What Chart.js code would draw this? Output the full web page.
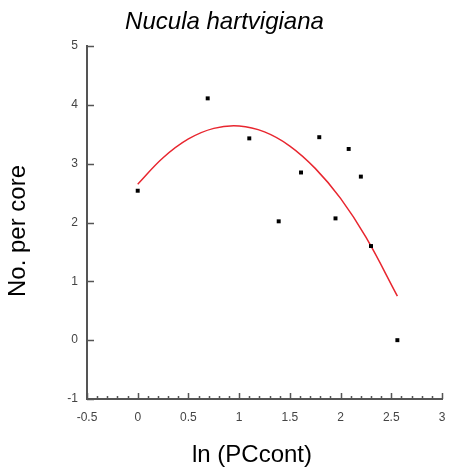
<!DOCTYPE html>
<html lang="en">
<head>
  <meta charset="UTF-8">
  <title>Nucula hartvigiana</title>
  <script src="https://cdn.jsdelivr.net/npm/chart.js"></script>
  <style>
    body { margin: 0; background: #fff; }
    #wrap { width: 449px; height: 474px; }
  </style>
</head>
<body>
  <div id="wrap"><canvas id="chart"></canvas></div>
  <script>
    // observed points: x = ln(PCcont), y = number per core
    const obsX = [0, 0.69, 1.1, 1.39, 1.61, 1.79, 1.95, 2.08, 2.2, 2.3, 2.56]
    const obsY = [2.54, 4.11, 3.43, 2.02, 2.85, 3.45, 2.07, 3.25, 2.78, 1.6, 0]

    // fitted curve
    const fitX = [0, 0.25, 0.5, 0.75, 1.0, 1.25, 1.5, 1.75, 2.0, 2.25, 2.56]
    const fitY = [2.65, 3.1, 3.42, 3.6, 3.64, 3.54, 3.3, 2.92, 2.41, 1.75, 0.75]

    const xTicks = [-0.5, 0, 0.5, 1, 1.5, 2, 2.5, 3]
    const yTicks = [-1, 0, 1, 2, 3, 4, 5]

    const axisColor = '#555'
    const fontFamily = '"Liberation Sans", Arial, sans-serif'
    const isMajor = v => xTicks.some(t => Math.abs(t - v) < 1e-6)

    // inward tick marks and axis titles
    const axisDecor = {
      id: 'axisDecor',
      afterDraw(chart) {
        const { ctx, chartArea, scales: { x, y } } = chart
        ctx.save()
        ctx.strokeStyle = axisColor
        ctx.lineWidth = 1.5
        ctx.beginPath()
        y.ticks.forEach(t => {
          const py = Math.round(y.getPixelForValue(t.value)) + 0.5
          ctx.moveTo(chartArea.left, py)
          ctx.lineTo(chartArea.left + 7, py)
        })
        x.ticks.forEach(t => {
          const px = Math.round(x.getPixelForValue(t.value)) + 0.5
          ctx.moveTo(px, chartArea.bottom)
          ctx.lineTo(px, chartArea.bottom - (isMajor(t.value) ? 6 : 3))
        })
        ctx.stroke()

        ctx.fillStyle = '#000'
        ctx.font = '24px ' + fontFamily
        ctx.textAlign = 'center'
        ctx.textBaseline = 'middle'
        ctx.fillText('ln (PCcont)', 252, chartArea.bottom + 56)
        ctx.translate(18, 231)
        ctx.rotate(-Math.PI / 2)
        ctx.fillText('No. per core', 0, 0)
        ctx.restore()
      }
    }

    new Chart(document.getElementById('chart'), {
      type: 'scatter',
      data: {
        datasets: [
          {
            data: obsX.map((v, i) => ({ x: v, y: obsY[i] })),
            pointStyle: 'rect',
            pointRadius: 2.8,
            pointBorderWidth: 0,
            backgroundColor: '#000',
            showLine: false,
          },
          {
            data: fitX.map((v, i) => ({ x: v, y: fitY[i] })),
            showLine: true,
            pointRadius: 0,
            borderColor: '#e8262f',
            borderWidth: 1.5,
            tension: 0.4,
          }
        ]
      },
      options: {
        animation: false,
        responsive: true,
        maintainAspectRatio: false,
        layout: { padding: { left: 0, right: 0, top: 0, bottom: 0 } },
        plugins: {
          legend: { display: false },
          tooltip: { enabled: false },
          title: {
            display: true,
            text: 'Nucula hartvigiana',
            color: '#000',
            font: { family: fontFamily, size: 24, style: 'italic', weight: 'normal' },
            padding: { top: 8, bottom: 9.2 },
          },
        },
        scales: {
          x: {
            min: -0.5,
            max: 3,
            afterFit: s => { s.height = 75; s.paddingRight = 7 },
            afterBuildTicks: s => {
              const ticks = []
              for (let i = 0; i <= 35; i++) ticks.push({ value: -0.5 + i * 0.1 })
              s.ticks = ticks
            },
            ticks: {
              autoSkip: false,
              maxRotation: 0,
              padding: 11,
              color: '#444',
              font: { family: fontFamily, size: 12 },
              callback: v => isMajor(v) ? String(Math.round(v * 10) / 10) : '',
            },
            grid: { display: false, drawTicks: false, tickLength: 0 },
            border: { display: true, color: axisColor, width: 2 },
          },
          y: {
            min: -1,
            max: 5,
            afterFit: s => { s.width = 87 },
            afterBuildTicks: s => { s.ticks = yTicks.map(v => ({ value: v })) },
            ticks: {
              padding: 9,
              color: '#444',
              font: { family: fontFamily, size: 12 },
            },
            grid: { display: false, drawTicks: false, tickLength: 0 },
            border: { display: true, color: axisColor, width: 2 },
          }
        }
      },
      plugins: [axisDecor]
    })
  </script>
</body>
</html>
